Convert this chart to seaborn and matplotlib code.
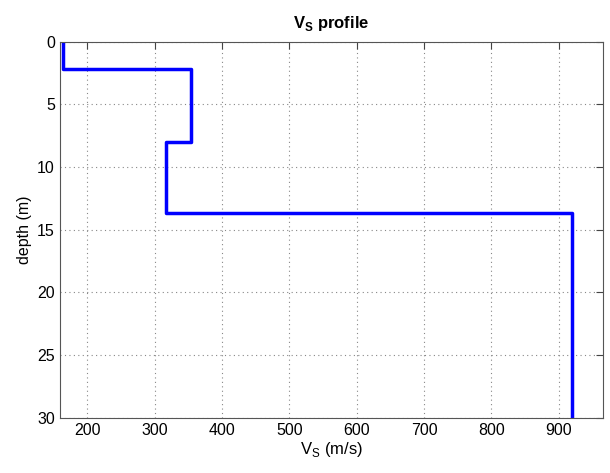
import numpy as np
import matplotlib
matplotlib.use("Agg")
import matplotlib.pyplot as plt
import seaborn as sns
import pandas as pd

# layer data
layer_vs = [164, 354, 316, 920]          # m/s
layer_top = [0.0, 2.2, 8.0, 13.65]       # m
max_depth = 30.0

x_ticks = [200, 300, 400, 500, 600, 700, 800, 900]
y_ticks = [0, 5, 10, 15, 20, 25, 30]

# step profile from the layers
bottoms = layer_top[1:] + [max_depth]
vs_pts, z_pts = [], []
for v, t, b in zip(layer_vs, layer_top, bottoms):
    vs_pts += [v, v]
    z_pts += [t, b]
df = pd.DataFrame({"vs": vs_pts, "depth": z_pts, "order": range(len(vs_pts))})

sns.set_style("white")
plt.rcParams["font.family"] = ["Liberation Sans", "DejaVu Sans"]
plt.rcParams["text.color"] = "black"
plt.rcParams["axes.labelcolor"] = "black"

fig = plt.figure(figsize=(6.1, 4.73), dpi=100)
ax = fig.add_axes([0.098, 0.117, 0.891, 0.795])

sns.lineplot(data=df, x="vs", y="depth", sort=False, estimator=None,
             color="#0000ff", linewidth=2.5, ax=ax)

ax.set_xlim(159, 966)
ax.set_ylim(max_depth, 0)
ax.set_xticks(x_ticks)
ax.set_yticks(y_ticks)
ax.grid(True, color="#888888", linestyle=(0, (1, 3)), linewidth=0.8)
ax.tick_params(direction="in", length=5, labelsize=11.5, top=True, right=True,
               color="#444444", labelcolor="black")
for s in ax.spines.values():
    s.set_color("#555555")
    s.set_linewidth(0.8)
ax.set_xlabel(r"V$_\mathregular{S}$ (m/s)", fontsize=12, labelpad=2)
ax.set_ylabel("depth (m)", fontsize=11.5, labelpad=4)
ax.set_title(r"V$_\mathregular{S}$ profile", fontsize=12, fontweight="bold", pad=10)

fig.savefig("out.png", dpi=100)
